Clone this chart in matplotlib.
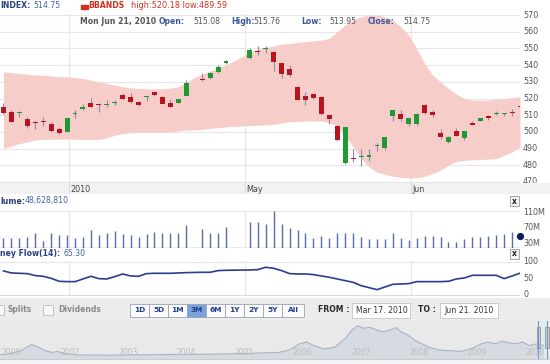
import matplotlib
matplotlib.use("Agg")
import matplotlib.pyplot as plt
from matplotlib.patches import Rectangle, FancyBboxPatch
import numpy as np

plt.rcParams['font.family'] = 'DejaVu Sans'

W, H = 550, 364

# ---- datos (posición = índice de sesión; faltan las sesiones 24, 29, 30) ----
slots = [0, 1, 2, 3, 4, 5, 6, 7, 8, 9, 10, 11, 12, 13, 14, 15, 16, 17, 18, 19, 20,
         21, 22, 23, 25, 26, 27, 28, 31, 32, 33, 34, 35, 36, 37, 38, 39, 40, 41, 42,
         43, 44, 45, 46, 47, 48, 49, 50, 51, 52, 53, 54, 55, 56, 57, 58, 59, 60, 61,
         62, 63, 64, 65]
opens = [515.1, 512.2, 511.4, 507.6, 505.8, 506.8, 504.6, 501.6, 500.2, 510.6, 514.0,
         517.5, 516.4, 516.1, 517.3, 522.1, 520.7, 518.1, 520.8, 523.7, 521.1, 517.1,
         517.5, 521.6, 531.4, 532.4, 536.0, 541.2, 544.0, 548.6, 549.4, 548.0, 541.0,
         537.4, 527.0, 521.6, 522.4, 521.0, 510.0, 503.4, 481.4, 484.6, 484.8, 484.8,
         491.4, 490.4, 509.4, 510.8, 505.0, 505.0, 516.4, 512.0, 499.4, 494.0, 500.4,
         496.4, 505.4, 506.8, 509.4, 510.8, 510.6, 512.0, 515.08]
highs = [517.5, 513.2, 512.6, 508.8, 506.8, 508.8, 506.2, 503.2, 508.6, 513.2, 516.6,
         520.1, 517.1, 519.0, 519.4, 523.1, 523.1, 518.7, 521.6, 524.1, 521.5, 519.5,
         519.9, 531.0, 535.4, 535.8, 540.0, 542.8, 550.0, 551.4, 551.6, 548.4, 541.4,
         540.0, 527.4, 524.0, 523.0, 521.6, 510.6, 504.0, 503.0, 490.0, 490.0, 489.8,
         493.4, 497.2, 513.0, 513.4, 508.6, 511.2, 516.6, 513.0, 501.8, 497.4, 502.4,
         500.6, 506.8, 508.6, 510.4, 512.4, 511.6, 513.6, 515.76]
lows = [511.0, 505.8, 508.8, 502.2, 501.6, 503.8, 500.2, 498.8, 500.0, 508.2, 513.2,
        514.8, 512.2, 514.8, 516.4, 519.5, 517.5, 515.7, 518.6, 521.7, 516.5, 514.8,
        517.2, 521.2, 530.6, 531.6, 535.4, 540.8, 543.6, 546.0, 547.0, 536.6, 532.0,
        532.6, 519.0, 516.0, 520.0, 510.0, 504.6, 494.4, 481.0, 482.0, 479.5, 482.4,
        488.4, 489.4, 506.4, 506.4, 503.8, 504.4, 511.0, 508.8, 495.8, 493.4, 497.4,
        495.4, 504.2, 506.4, 507.2, 510.0, 509.4, 509.6, 513.95]
closes = [511.6, 506.2, 512.2, 503.6, 505.4, 505.8, 500.8, 499.2, 508.2, 510.9, 515.0,
          515.1, 516.1, 516.5, 517.9, 519.7, 517.7, 515.9, 521.4, 521.9, 516.7, 515.0,
          519.5, 529.0, 530.8, 535.4, 539.0, 542.2, 549.0, 548.0, 549.8, 541.6, 534.4,
          534.0, 519.4, 519.0, 520.4, 511.0, 508.0, 495.0, 503.0, 484.0, 485.8, 486.4,
          492.4, 497.0, 513.0, 507.8, 508.4, 511.0, 511.4, 510.4, 496.8, 497.0, 497.8,
          500.4, 504.4, 508.4, 508.2, 511.2, 511.0, 511.4, 514.75]
volume_m = [43.6, 43.6, 43.6, 46, 58, 34.5, 55.5, 51, 51, 44.5, 46, 66, 51, 55.5, 62,
            52.7, 51, 46, 52.7, 60, 58, 55.5, 55.5, 78, 67, 55.5, 58, 72, 87, 87, 80,
            114.5, 81, 69, 66, 58, 43.6, 49, 43.6, 55.5, 58, 58, 46, 40, 42, 42, 55.5,
            43.6, 39, 43.6, 49, 49, 46, 32.7, 32.7, 42, 46, 46, 49, 51, 52.7, 60, 48.63]
money_flow = [72, 66, 65, 64, 58, 56, 50, 41, 40, 40, 48, 56, 49, 48, 55, 63, 57, 56,
              64, 65, 65, 65, 66, 67, 68, 68, 73, 74, 75, 76, 83, 80, 73, 64, 63, 63,
              61, 57, 53, 48, 43, 38, 28, 22, 16, 24, 32, 33, 34, 40, 40, 40, 40, 41,
              48, 51, 59, 59, 59, 59, 49, 57, 65.3]

# bandas de Bollinger, una por sesión 0..65
band_slots = list(range(66))
band_upper = [536, 535.5, 535, 534.5, 534, 534, 533.5, 533, 533, 532.5, 532, 531, 530,
              529, 528, 527, 526.5, 526, 525.8, 525.6, 525.8, 526.2, 527, 529.5, 532.5,
              534.5, 536.5, 538, 540, 542.5, 545, 547.5, 549.5, 550.5, 551.5, 552.5, 553,
              553.5, 554, 554.5, 555, 556, 560, 564, 567, 569, 570, 570, 569, 567, 563,
              558, 550, 541, 534, 530, 526, 522.5, 520, 519, 519, 519, 519.5, 520, 520.5,
              521]
band_lower = [490, 491.5, 493, 494, 495.2, 495.5, 495.6, 495.7, 495.7, 495.6, 495.5,
              495.4, 495.5, 496.5, 498, 499, 499.5, 499.7, 499.8, 499.8, 499.8, 500,
              500.5, 501, 501.2, 501.5, 502, 502.5, 503, 503.3, 503.6, 503.8, 504, 504.2,
              504.5, 505.3, 506, 506.3, 506.5, 506.6, 506.5, 505.5, 503.5, 498, 491, 484,
              479, 476, 474.5, 473.4, 472.8, 472.4, 472.6, 473.5, 475, 477, 480, 482.3,
              483, 483.3, 483.5, 483.7, 484, 486, 488, 491]

month_pos = [8.25, 30.4, 51.3]
month_labels = ["2010", "May", "Jun"]
price_ticks = [470, 480, 490, 500, 510, 520, 530, 540, 550, 560, 570]
vol_ticks = [30, 70, 110]
vol_labels = ["30M", "70M", "110M"]
mf_ticks = [0, 50, 100]

# navegador (histórico largo)
nav_years = [2000.80, 2000.98, 2001.16, 2001.34, 2001.46, 2001.58, 2001.70, 2001.79,
             2001.91, 2002.12, 2002.60, 2003.20, 2003.80, 2004.40, 2004.99, 2005.59,
             2005.77, 2005.95, 2006.07, 2006.19, 2006.37, 2006.55, 2006.73, 2006.85,
             2006.94, 2007.06, 2007.15, 2007.27, 2007.39, 2007.51, 2007.60, 2007.69,
             2007.81, 2007.93, 2008.05, 2008.17, 2008.35, 2008.53, 2008.71, 2008.89,
             2009.07, 2009.19, 2009.31, 2009.43, 2009.54, 2009.66, 2009.78, 2009.90,
             2010.02, 2010.14]
nav_level = [148, 172, 220, 328, 280, 220, 190, 208, 172, 148, 142, 148, 154, 160, 172,
             190, 232, 340, 370, 310, 250, 280, 430, 580, 652, 610, 628, 580, 550, 580,
             622, 550, 490, 400, 340, 280, 232, 220, 208, 250, 340, 370, 340, 388, 358,
             340, 370, 310, 340, 310]
nav_tick_pos = [2001, 2002, 2003, 2004, 2005, 2006, 2007, 2008, 2009, 2010]
nav_tick_labels = ["2000", "2002", "2003", "2004", "2005", "2006", "2007", "2008",
                   "2009", "2010"]


def px_rect(x0, y0, x1, y1):
    return [x0 / W, 1 - y1 / H, (x1 - x0) / W, (y1 - y0) / H]


def ftext(x, y, s, **kw):
    kw.setdefault('va', 'center')
    kw.setdefault('fontsize', 5.6)
    fig.text(x / W, 1 - y / H, s, **kw)


fig = plt.figure(figsize=(W / 100, H / 100), dpi=100)
fig.patch.set_facecolor('white')

grid_c = '#e6e6e6'
lab_c = '#555555'
xlim = (-0.44, 65.0)

# ---- panel de precios ----
ax = fig.add_axes(px_rect(0, 13, 520, 183))
ax.set_xlim(*xlim)
ax.set_ylim(469.4, 571.2)
for t in price_ticks:
    ax.axhline(t, color=grid_c, lw=0.8, zorder=0)
for m in month_pos:
    ax.axvline(m, color=grid_c, lw=0.8, zorder=0)
ax.fill_between(band_slots, band_lower, band_upper, color='#f6cdc8', lw=0, zorder=1)

o = np.array(opens); c = np.array(closes)
cols = np.where(c >= o, '#1e9a33', '#b8141f')
ax.vlines(slots, lows, highs, color='#8c8cb0', lw=0.8, zorder=2)
body = np.maximum(np.abs(c - o), 0.6)
ax.bar(slots, body, bottom=np.minimum(o, c), width=0.62, color=cols, lw=0, zorder=3)
ax.set_xticks([]); ax.set_yticks([])
for s in ax.spines.values():
    s.set_visible(False)
for t in price_ticks:
    ax.text(1.006, t, str(t), transform=ax.get_yaxis_transform(), fontsize=5.8,
            color=lab_c, va='center', ha='left', clip_on=False)

# franja de fechas
dax = fig.add_axes(px_rect(0, 183, 550, 194))
dax.set_facecolor('#f2f2f2')
dax.set_xlim(xlim[0], xlim[0] + (xlim[1] - xlim[0]) * 550 / 520)
dax.set_ylim(0, 1)
dax.set_xticks([]); dax.set_yticks([])
for s in dax.spines.values():
    s.set_visible(False)
for m, lab in zip(month_pos, month_labels):
    dax.axvline(m, color='#dddddd', lw=0.8)
    dax.text(m + 0.2, 0.45, lab, fontsize=5.8, color='#444444', va='center', ha='left')

# ---- cabecera ----
ftext(0, 6, "INDEX:", color='#2a4080', fontweight='bold')
ftext(33, 6, "514.75", color='#3b64a8')
fig.patches.append(Rectangle((81 / W, 1 - 8.5 / H), 7 / W, 4 / H,
                             transform=fig.transFigure, color='#d0301e'))
ftext(88, 6, "BBANDS", color='#d0301e', fontweight='bold')
ftext(131, 6, "high:520.18 low:489.59", color='#d0301e', fontsize=5.9)

ftext(80, 21, "Mon Jun 21, 2010", color='#555555', fontweight='bold')
for x, s in [(159, "Open:"), (231, "High:"), (301, "Low:"), (368, "Close:")]:
    ftext(x, 21, s, color='#3a5a9a', fontweight='bold')
for x, s in [(193, "515.08"), (253, "515.76"), (329, "513.95"), (403, "514.75")]:
    ftext(x, 21, s, color='#555555')


def close_box(x, y):
    fig.patches.append(FancyBboxPatch((x / W, 1 - (y + 5) / H), 9 / W, 10 / H,
                                      boxstyle='square,pad=0', transform=fig.transFigure,
                                      fc='#f4f4f4', ec='#999999', lw=0.6))
    ftext(x + 4.5, y, "x", color='#222222', fontweight='bold', ha='center', fontsize=5.5)


# ---- volumen ----
ftext(0, 201, "lume:", color='#2a4080', fontweight='bold')
ftext(25, 201, "48,628,810", color='#3b64a8')
close_box(510, 201)
vax = fig.add_axes(px_rect(0, 211, 520, 248))
vax.set_xlim(*xlim)
vax.set_ylim(16.7, 115.3)
for m in month_pos:
    vax.axvline(m, color=grid_c, lw=0.8, zorder=0)
vax.axhline(115.3, color=grid_c, lw=1.2)
vax.axhline(16.7, color=grid_c, lw=1.2)
vax.vlines(slots[:-1], 16.7, volume_m[:-1], color='#5a6aa6', lw=1.0)
vax.plot(slots[-1], volume_m[-1], 'o', color='#0c1d66', ms=4.2, clip_on=False)
vax.set_xticks([]); vax.set_yticks([])
for s in vax.spines.values():
    s.set_visible(False)
for t, lab in zip(vol_ticks, vol_labels):
    vax.text(1.006, t, lab, transform=vax.get_yaxis_transform(), fontsize=5.8,
             color=lab_c, va='center', ha='left', clip_on=False)

# ---- money flow ----
ftext(0, 254, "ney Flow(14):", color='#2a4080', fontweight='bold')
ftext(64, 254, "65.30", color='#3b64a8')
close_box(510, 254)
max_ = fig.add_axes(px_rect(0, 261, 520, 296))
max_.set_xlim(*xlim)
max_.set_ylim(-3, 101.8)
for m in month_pos:
    max_.axvline(m, color=grid_c, lw=0.8, zorder=0)
max_.axhline(100, color=grid_c, lw=0.8)
max_.axhline(0, color='#dddddd', lw=0.8)
max_.plot(slots, money_flow, color='#2b3d8f', lw=1.2)
max_.set_xticks([]); max_.set_yticks([])
for s in max_.spines.values():
    s.set_visible(False)
for t in mf_ticks:
    max_.text(1.006, t, str(t), transform=max_.get_yaxis_transform(), fontsize=5.8,
              color=lab_c, va='center', ha='left', clip_on=False)

# ---- barra de controles ----
cax = fig.add_axes(px_rect(0, 298, 550, 321))
cax.set_facecolor('#ececec')
cax.set_xlim(0, W); cax.set_ylim(321, 298)
cax.set_xticks([]); cax.set_yticks([])
for s in cax.spines.values():
    s.set_visible(False)
for bx in (-6, 43):
    cax.add_patch(Rectangle((bx, 305), 10, 10, fc='#f6f6f6', ec='#bbbbbb', lw=0.6))
cax.text(8, 310, "Splits", fontsize=5.5, color='#8a8a8a', fontweight='bold', va='center')
cax.text(58, 310, "Dividends", fontsize=5.5, color='#8a8a8a', fontweight='bold', va='center')
buttons = ["1D", "5D", "1M", "3M", "6M", "1Y", "2Y", "5Y", "All"]
bxs = [130, 149, 168, 187, 206, 225, 244, 263, 282, 304]
for i, b in enumerate(buttons):
    sel = b == "3M"
    cax.add_patch(Rectangle((bxs[i], 303.5), bxs[i + 1] - bxs[i], 13,
                            fc='#79a3dc' if sel else '#fafafa', ec='#9aa4b4', lw=0.6))
    cax.text((bxs[i] + bxs[i + 1]) / 2, 310.2, b, fontsize=5.3, fontweight='bold',
             color='#1f3f8f', ha='center', va='center')
cax.text(318, 310, "FROM :", fontsize=5.6, color='#2a2a2a', fontweight='bold', va='center')
cax.add_patch(Rectangle((352, 302.5), 58, 15, fc='white', ec='#c4c4c4', lw=0.6))
cax.text(356, 310.2, "Mar 17. 2010", fontsize=5.6, color='#333333', va='center')
cax.text(418, 310, "TO :", fontsize=5.6, color='#2a2a2a', fontweight='bold', va='center')
cax.add_patch(Rectangle((440, 302.5), 58, 15, fc='white', ec='#c4c4c4', lw=0.6))
cax.text(444, 310.2, "Jun 21. 2010", fontsize=5.6, color='#333333', va='center')

# ---- navegador ----
nax = fig.add_axes(px_rect(0, 321, 550, 359))
nax.set_facecolor('#e9e9e9')
nax.set_xlim(2000.80, 2010.25)
nax.set_ylim(76, 736)
nax.fill_between(nav_years, 76, nav_level, color='#d6dbe3', lw=0)
nax.plot(nav_years, nav_level, color='#a9b2c2', lw=0.8)
nax.set_xticks([]); nax.set_yticks([])
for s in nax.spines.values():
    s.set_visible(False)
for p, lab in zip(nav_tick_pos, nav_tick_labels):
    nax.text(p, 0.17, lab, transform=nax.get_xaxis_transform(), fontsize=5.5,
             color='#bdbdbd', ha='center', va='center')
for hx in (2010.05, 2010.20):
    nax.axvline(hx, color='#5b9be0', lw=0.8)
    nax.add_patch(Rectangle((hx - 0.03, 0.3), 0.06, 0.55, transform=nax.get_xaxis_transform(),
                            fc='#d2d2d2', ec='#888888', lw=0.5))

bax = fig.add_axes(px_rect(0, 359, 550, 364))
bax.set_facecolor('#f4f4f4')
bax.set_xticks([]); bax.set_yticks([])
for s in bax.spines.values():
    s.set_visible(False)
bax.axhline(1, color='#cccccc', lw=0.8)

fig.savefig('out.png', dpi=100)
